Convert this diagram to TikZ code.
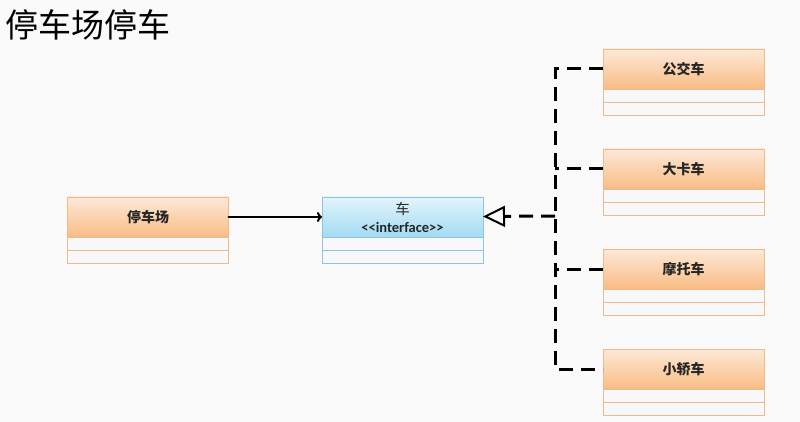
\documentclass[tikz,border=0pt]{standalone}
\usepackage{fontspec}
\newfontfamily\cjk{Noto Sans CJK SC}
\newfontfamily\latinfont{Carlito}[Ligatures=TeXOff]
\usetikzlibrary{arrows.meta,positioning}

\definecolor{orangetop}{HTML}{FDE9D8}
\definecolor{orangebot}{HTML}{F9BC84}
\definecolor{orangeline}{HTML}{EDBA8E}
\definecolor{bluetop}{HTML}{E3F5FC}
\definecolor{bluebot}{HTML}{A2DAF3}
\definecolor{blueline}{HTML}{8FC4DD}
\definecolor{slotfill}{HTML}{F8F8FA}
\definecolor{paper}{HTML}{FAFAFA}

\begin{document}
\begin{tikzpicture}[x=1pt,y=-1pt,
        classhead/.style={rectangle, draw=orangeline, top color=orangetop, bottom color=orangebot,
                minimum width=161pt, minimum height=40pt, inner sep=0pt, outer sep=0pt,
                font=\cjk\bfseries\fontsize{14}{17}\selectfont, text=black!85},
        ifacehead/.style={classhead, draw=blueline, top color=bluetop, bottom color=bluebot,
                align=center, font=\fontsize{14.5}{18}\selectfont},
        slot/.style={rectangle, draw=orangeline, fill=slotfill, minimum width=161pt,
                minimum height=13pt, inner sep=0pt, outer sep=0pt},
        ifaceslot/.style={slot, draw=blueline},
        assoc/.style={line width=2pt, line cap=round, -{To[length=5pt,width=10pt]}},
        realize/.style={line width=3pt, dash pattern=on 14pt off 8pt}]
        \useasboundingbox (0,0) rectangle (800,422);
        \fill[paper] (0,0) rectangle (800,422);

        \node[anchor=west, font=\cjk\fontsize{33}{36}\selectfont] (title) at (2,25) {停车场停车};

        % left class
        \node[classhead] (lot) at (148,217) {停车场};
        \node[slot] (lot a) [below=0pt of lot] {};
        \node[slot] (lot b) [below=0pt of lot a] {};

        % interface
        \node[ifacehead] (car) at (402.5,217) {{\cjk 车}\\{\latinfont\bfseries <<interface>>}};
        \node[ifaceslot] (car a) [below=0pt of car] {};
        \node[ifaceslot] (car b) [below=0pt of car a] {};

        % right classes
        \node[classhead] (bus) at (683.5,69) {公交车};
        \node[slot] (bus a) [below=0pt of bus] {};
        \node[slot] (bus b) [below=0pt of bus a] {};

        \node[classhead] (truck) [below=60pt of bus] {大卡车};
        \node[slot] (truck a) [below=0pt of truck] {};
        \node[slot] (truck b) [below=0pt of truck a] {};

        \node[classhead] (moto) [below=60pt of truck] {摩托车};
        \node[slot] (moto a) [below=0pt of moto] {};
        \node[slot] (moto b) [below=0pt of moto a] {};

        \node[classhead] (sedan) [below=60pt of moto] {小轿车};
        \node[slot] (sedan a) [below=0pt of sedan] {};
        \node[slot] (sedan b) [below=0pt of sedan a] {};

        \coordinate (fork) at (555,216);

        \draw[assoc] (lot) -- (car);
        \draw[realize, -{Triangle[open, length=22pt, width=21pt, line width=2pt]}] (fork) -- (car);
        \draw[realize] (bus) -- (bus -| fork) -- (sedan -| fork) -- (sedan);
        \draw[realize] (truck) -- (truck -| fork);
        \draw[realize] (moto) -- (moto -| fork);
\end{tikzpicture}
\end{document}
